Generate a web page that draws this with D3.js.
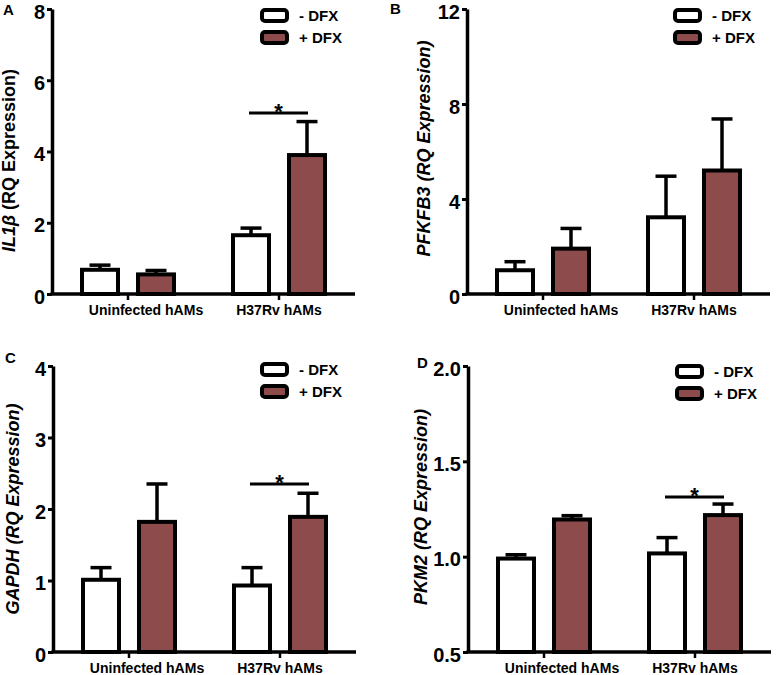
<!DOCTYPE html>
<html>
<head>
<meta charset="utf-8">
<script src="https://cdn.jsdelivr.net/npm/d3@7"></script>
<style>
  html, body { margin: 0; padding: 0; background: #fff; }
  svg { display: block; }
  text { font-family: "Liberation Sans", Arial, Helvetica, sans-serif; font-weight: bold; fill: #000; }
</style>
</head>
<body>
<svg id="chart" width="777" height="675"></svg>
<script>
// ---------------- data ----------------
const categories = ["Uninfected hAMs", "H37Rv hAMs"];
const treatments = ["- DFX", "+ DFX"];

const il1bMinus    = [0.68, 1.65];
const il1bMinusErr = [0.13, 0.20];
const il1bPlus     = [0.55, 3.90];
const il1bPlusErr  = [0.11, 0.94];
const il1bTicks    = [0, 2, 4, 6, 8];
const il1bSig      = 5.08;

const pfkfb3Minus    = [1.00, 3.23];
const pfkfb3MinusErr = [0.36, 1.73];
const pfkfb3Plus     = [1.91, 5.20];
const pfkfb3PlusErr  = [0.85, 2.17];
const pfkfb3Ticks    = [0, 4, 8, 12];

const gapdhMinus    = [1.01, 0.93];
const gapdhMinusErr = [0.17, 0.25];
const gapdhPlus     = [1.82, 1.89];
const gapdhPlusErr  = [0.53, 0.33];
const gapdhTicks    = [0, 1, 2, 3, 4];
const gapdhSig      = 2.35;

const pkm2Minus    = [0.99, 1.017];
const pkm2MinusErr = [0.02, 0.083];
const pkm2Plus     = [1.195, 1.218];
const pkm2PlusErr  = [0.02, 0.058];
const pkm2Ticks    = [0.5, 1.0, 1.5, 2.0];
const pkm2Sig      = 1.313;

const fillColors = ["#ffffff", "#8d4b4c"];

// ---------------- panels ----------------
const panels = [
  { letter: "A", lx: 3, ly: 15, left: 52, top: 9, bottom: 294, domain: [0, 8], ticks: il1bTicks, fmt: d3.format("d"),
    minus: il1bMinus, minusErr: il1bMinusErr, plus: il1bPlus, plusErr: il1bPlusErr, sig: il1bSig,
    title: [{t: "IL1β", it: true}, {t: " (RQ Expression)", it: false}], tx: 15, tdy: 9, legX: 262, legY: 10 },
  { letter: "B", lx: 390, ly: 14, left: 467, top: 9, bottom: 294, domain: [0, 12], ticks: pfkfb3Ticks, fmt: d3.format("d"),
    minus: pfkfb3Minus, minusErr: pfkfb3MinusErr, plus: pfkfb3Plus, plusErr: pfkfb3PlusErr, sig: null,
    title: [{t: "PFKFB3 (RQ Expression)", it: true}], tx: 430, tdy: -3, legX: 675, legY: 10 },
  { letter: "C", lx: 5, ly: 363, left: 53, top: 366, bottom: 652, domain: [0, 4], ticks: gapdhTicks, fmt: d3.format("d"),
    minus: gapdhMinus, minusErr: gapdhMinusErr, plus: gapdhPlus, plusErr: gapdhPlusErr, sig: gapdhSig,
    title: [{t: "GAPDH (RQ Expression)", it: true}], tx: 19, tdy: 0, legX: 262, legY: 364 },
  { letter: "D", lx: 417, ly: 368, left: 468, top: 366, bottom: 652, domain: [0.5, 2], ticks: pkm2Ticks, fmt: d3.format(".1f"),
    minus: pkm2Minus, minusErr: pkm2MinusErr, plus: pkm2Plus, plusErr: pkm2PlusErr, sig: pkm2Sig,
    title: [{t: "PKM2 (RQ Expression)", it: true}], tx: 427, tdy: -2, legX: 677, legY: 366 }
];

const svg = d3.select("#chart");
const AXW = 303;       // x-axis length
const BARW = 36;       // bar width (plus stroke)
const STROKE = 4;

panels.forEach(p => {
  const g = svg.append("g");
  const y = d3.scaleLinear().domain(p.domain).range([p.bottom, p.top]);
  const x0 = d3.scalePoint().domain(categories).range([p.left + 76, p.left + 227]);
  const x1 = d3.scalePoint().domain(treatments).range([-28, 28]);

  // panel letter
  g.append("text").attr("x", p.lx).attr("y", p.ly).attr("font-size", 15).text(p.letter);

  const rows = [];
  categories.forEach((c, i) => {
    rows.push({ cat: c, tr: treatments[0], v: p.minus[i], e: p.minusErr[i], k: 0 });
    rows.push({ cat: c, tr: treatments[1], v: p.plus[i], e: p.plusErr[i], k: 1 });
  });

  // error bars
  rows.forEach(r => {
    const cx = x0(r.cat) + x1(r.tr);
    g.append("line").attr("x1", cx).attr("x2", cx)
      .attr("y1", y(r.v)).attr("y2", y(r.v + r.e))
      .attr("stroke", "#000").attr("stroke-width", 3.5);
    g.append("line").attr("x1", cx - 10.5).attr("x2", cx + 10.5)
      .attr("y1", y(r.v + r.e)).attr("y2", y(r.v + r.e))
      .attr("stroke", "#000").attr("stroke-width", 3.5);
  });

  // bars
  rows.forEach(r => {
    const cx = x0(r.cat) + x1(r.tr);
    g.append("rect")
      .attr("x", cx - BARW / 2).attr("width", BARW)
      .attr("y", y(r.v)).attr("height", y(p.domain[0]) - y(r.v))
      .attr("fill", fillColors[r.k]).attr("stroke", "#000").attr("stroke-width", STROKE);
  });

  // y axis
  const yAxis = d3.axisLeft(y).tickValues(p.ticks).tickFormat(p.fmt).tickSize(5).tickSizeOuter(0).tickPadding(2);
  const ya = g.append("g").attr("transform", `translate(${p.left},0)`).call(yAxis);
  ya.select(".domain").attr("stroke", "#000").attr("stroke-width", 3.5);
  ya.selectAll(".tick line").attr("stroke", "#000").attr("stroke-width", 3);
  ya.selectAll(".tick text").attr("font-size", 20).attr("font-family", "Liberation Sans, Arial, sans-serif")
    .attr("font-weight", "bold").attr("fill", "#000").attr("dy", "0.45em");

  // x axis line + category ticks
  g.append("line").attr("x1", p.left - 1.5).attr("x2", p.left + AXW)
    .attr("y1", p.bottom).attr("y2", p.bottom).attr("stroke", "#000").attr("stroke-width", 3.5);
  categories.forEach((c, i) => {
    g.append("line").attr("x1", x0(c)).attr("x2", x0(c))
      .attr("y1", p.bottom).attr("y2", p.bottom + 6).attr("stroke", "#000").attr("stroke-width", 2.5);
    g.append("text").attr("x", x0(c) + (i === 0 ? 18 : 0)).attr("y", p.bottom + 21)
      .attr("text-anchor", "middle").attr("font-size", 14).text(c);
  });

  // y title
  const cy = (p.top + p.bottom) / 2 + p.tdy;
  const t = g.append("text").attr("transform", `translate(${p.tx},${cy}) rotate(-90)`)
    .attr("text-anchor", "middle").attr("font-size", 18);
  p.title.forEach(s => t.append("tspan").attr("font-style", s.it ? "italic" : "normal").text(s.t));

  // legend
  treatments.forEach((tr, k) => {
    const by = p.legY + k * 22;
    g.append("rect").attr("x", p.legX).attr("y", by).attr("width", 25).attr("height", 11)
      .attr("rx", 3).attr("fill", fillColors[k]).attr("stroke", "#000").attr("stroke-width", STROKE);
    g.append("text").attr("x", p.legX + 37).attr("y", by + 11).attr("font-size", 15).text(tr);
  });

  // significance
  if (p.sig !== null) {
    const c = categories[1];
    const xa = x0(c) + x1(treatments[0]) - 2;
    const xb = x0(c) + x1(treatments[1]) + 1;
    g.append("line").attr("x1", xa).attr("x2", xb).attr("y1", y(p.sig)).attr("y2", y(p.sig))
      .attr("stroke", "#000").attr("stroke-width", 3);
    g.append("text").attr("x", (xa + xb) / 2).attr("y", y(p.sig) + 6).attr("text-anchor", "middle")
      .attr("font-size", 22).text("*");
  }
});
</script>
</body>
</html>
